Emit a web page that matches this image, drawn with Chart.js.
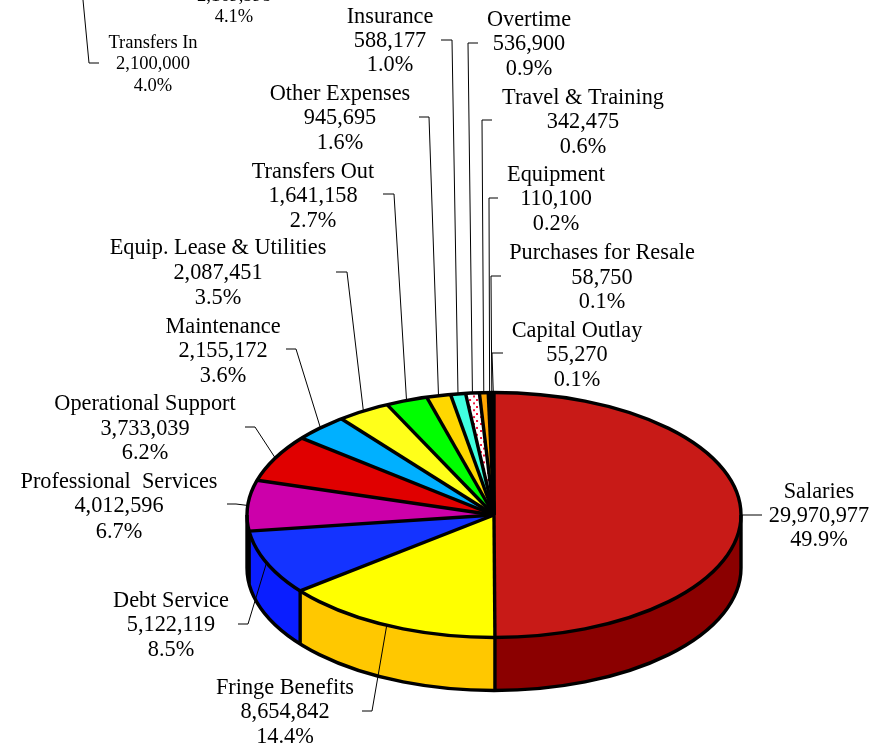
<!DOCTYPE html>
<html>
<head>
<meta charset="utf-8">
<style>
  html, body { margin: 0; padding: 0; background: #fff; }
  #wrap { width: 888px; height: 747px; }
</style>
<script src="https://cdn.jsdelivr.net/npm/chart.js@4"></script>
</head>
<body>
<div id="wrap"><canvas id="chart"></canvas></div>
<script>
const categories = ["Salaries", "Fringe Benefits", "Debt Service", "Professional  Services", "Operational Support", "Maintenance", "Equip. Lease & Utilities", "Transfers Out", "Other Expenses", "Insurance", "Overtime", "Travel & Training", "Equipment", "Purchases for Resale", "Capital Outlay"];
const amounts = [29970977, 8654842, 5122119, 4012596, 3733039, 2155172, 2087451, 1641158, 945695, 588177, 536900, 342475, 110100, 58750, 55270];
const percents = ["49.9%", "14.4%", "8.5%", "6.7%", "6.2%", "3.6%", "3.5%", "2.7%", "1.6%", "1.0%", "0.9%", "0.6%", "0.2%", "0.1%", "0.1%"];

const topColors = ["#c81a17", "#ffff00", "#1433ff", "#cc00aa", "#e00000", "#00b0ff", "#ffff1a", "#00ff00", "#ffd700", "#40ffe0", "#ffffff", "#ffa500", "#c8a000", "#000000", "#000000"];
const sideColors = ["#8b0000", "#ffc800", "#0a1eff", "#a00088"];

// label centre x, y of each of the three lines
const labelX = [819, 285, 171, 119, 145, 223, 218, 313, 340, 390, 529, 583, 556, 602, 577];
const labelY = [[492, 516, 540], [688, 712, 737], [601, 625, 650], [482, 506, 532], [404, 429, 453], [327, 351, 376], [248, 273, 298], [172, 196, 221], [94, 118, 143], [17, 41, 65], [20, 44, 69], [98, 122, 147], [175, 199, 224], [253, 278, 302], [331, 355, 380]];
// leader: elbow x, elbow y, end x
const leaders = [[741, 515, 762], [372, 711, 362], [248, 624, 238], [236, 504, 227], [255, 427, 245], [296, 349, 286], [347, 272, 336], [394, 194, 383], [429, 117, 419], [452, 40, 441], [468, 43, 478], [482, 120, 492], [489, 198, 498], [491, 276, 501], [492, 353, 503]];

// pieces of the neighbouring chart that the crop cut off
const strayLines = [["Transfers In", 153, 43], ["2,100,000", 153, 64], ["4.0%", 153, 86], ["2,169,598", 234, -4], ["4.1%", 234, 17]];

const tilt = 0.496;
const depth = 53;

function dotPattern() {
  const c = document.createElement("canvas");
  c.width = 7;
  c.height = 14;
  const p = c.getContext("2d");
  p.fillStyle = "#fff";
  p.fillRect(0, 0, 7, 14);
  p.fillStyle = "#f0143c";
  p.fillRect(0, 1, 2, 4);
  p.fillRect(4, 8, 2, 4);
  return c;
}

function rim(ctx, a, b, dy, el, reverse) {
  ctx.ellipse(el.x, el.y + dy, el.outerRadius, el.outerRadius * tilt, 0, a, b, reverse);
}

const pie3d = {
  id: "pie3d",
  beforeDatasetsDraw(chart) {
    const ctx = chart.ctx;
    const arcs = chart.getDatasetMeta(0).data;
    // side wall, only the part facing the viewer
    arcs.forEach((el, i) => {
      const a = Math.max(el.startAngle, 0);
      const b = Math.min(el.endAngle, Math.PI);
      if (b <= a) return;
      ctx.beginPath();
      rim(ctx, a, b, 0, el, false);
      rim(ctx, b, a, depth, el, true);
      ctx.closePath();
      ctx.fillStyle = sideColors[i];
      ctx.fill();
    });
    const c = arcs[0];
    ctx.save();
    ctx.translate(c.x, c.y);
    ctx.scale(1, tilt);
    ctx.translate(-c.x, -c.y);
  },
  afterDatasetsDraw(chart) {
    const ctx = chart.ctx;
    const arcs = chart.getDatasetMeta(0).data;
    ctx.restore();
    const c = arcs[0];

    ctx.strokeStyle = "#000";
    ctx.lineWidth = 3.4;
    ctx.lineJoin = "round";
    // wall outline
    ctx.beginPath();
    rim(ctx, 0, Math.PI, depth, c, false);
    ctx.moveTo(c.x + c.outerRadius, c.y);
    ctx.lineTo(c.x + c.outerRadius, c.y + depth);
    ctx.moveTo(c.x - c.outerRadius, c.y);
    ctx.lineTo(c.x - c.outerRadius, c.y + depth);
    arcs.forEach((el) => {
      if (el.endAngle > 0 && el.endAngle < Math.PI) {
        const ex = c.x + c.outerRadius * Math.cos(el.endAngle);
        const ey = c.y + c.outerRadius * tilt * Math.sin(el.endAngle);
        ctx.moveTo(ex, ey);
        ctx.lineTo(ex, ey + depth);
      }
    });
    ctx.stroke();
    // top face outline and the spokes
    ctx.beginPath();
    ctx.ellipse(c.x, c.y, c.outerRadius, c.outerRadius * tilt, 0, 0, Math.PI * 2);
    ctx.stroke();
    arcs.forEach((el) => {
      ctx.beginPath();
      ctx.moveTo(c.x, c.y);
      ctx.lineTo(c.x + c.outerRadius * Math.cos(el.startAngle), c.y + c.outerRadius * tilt * Math.sin(el.startAngle));
      ctx.stroke();
    });

    // leader lines
    ctx.lineWidth = 1;
    arcs.forEach((el, i) => {
      const mid = (el.startAngle + el.endAngle) / 2;
      const l = leaders[i];
      ctx.beginPath();
      ctx.moveTo(c.x + c.outerRadius * Math.cos(mid), c.y + c.outerRadius * tilt * Math.sin(mid));
      ctx.lineTo(l[0], l[1]);
      ctx.lineTo(l[2], l[1]);
      ctx.stroke();
    });
    ctx.beginPath();
    ctx.moveTo(83, 0);
    ctx.lineTo(89, 63);
    ctx.lineTo(99, 63);
    ctx.stroke();

    // labels
    ctx.fillStyle = "#000";
    ctx.textAlign = "center";
    ctx.textBaseline = "middle";
    ctx.font = '22.3px "Liberation Serif"';
    categories.forEach((name, i) => {
      ctx.fillText(name, labelX[i], labelY[i][0]);
      ctx.fillText(amounts[i].toLocaleString("en-US"), labelX[i], labelY[i][1]);
      ctx.fillText(percents[i], labelX[i], labelY[i][2]);
    });
    ctx.font = '18.5px "Liberation Serif"';
    strayLines.forEach((s) => ctx.fillText(s[0], s[1], s[2]));
  }
};

const pattern = document.createElement("canvas").getContext("2d").createPattern(dotPattern(), "repeat");
const fills = topColors.map((col, i) => (categories[i] === "Overtime" ? pattern : col));

new Chart(document.getElementById("chart"), {
  type: "pie",
  data: {
    labels: categories,
    datasets: [{
      data: amounts,
      backgroundColor: fills,
      borderWidth: 0,
      radius: 247,
      clip: false
    }]
  },
  options: {
    responsive: true,
    maintainAspectRatio: false,
    animation: false,
    layout: { padding: { left: 100, top: 283 } },
    plugins: { legend: { display: false }, tooltip: { enabled: false } }
  },
  plugins: [pie3d]
});
</script>
</body>
</html>
